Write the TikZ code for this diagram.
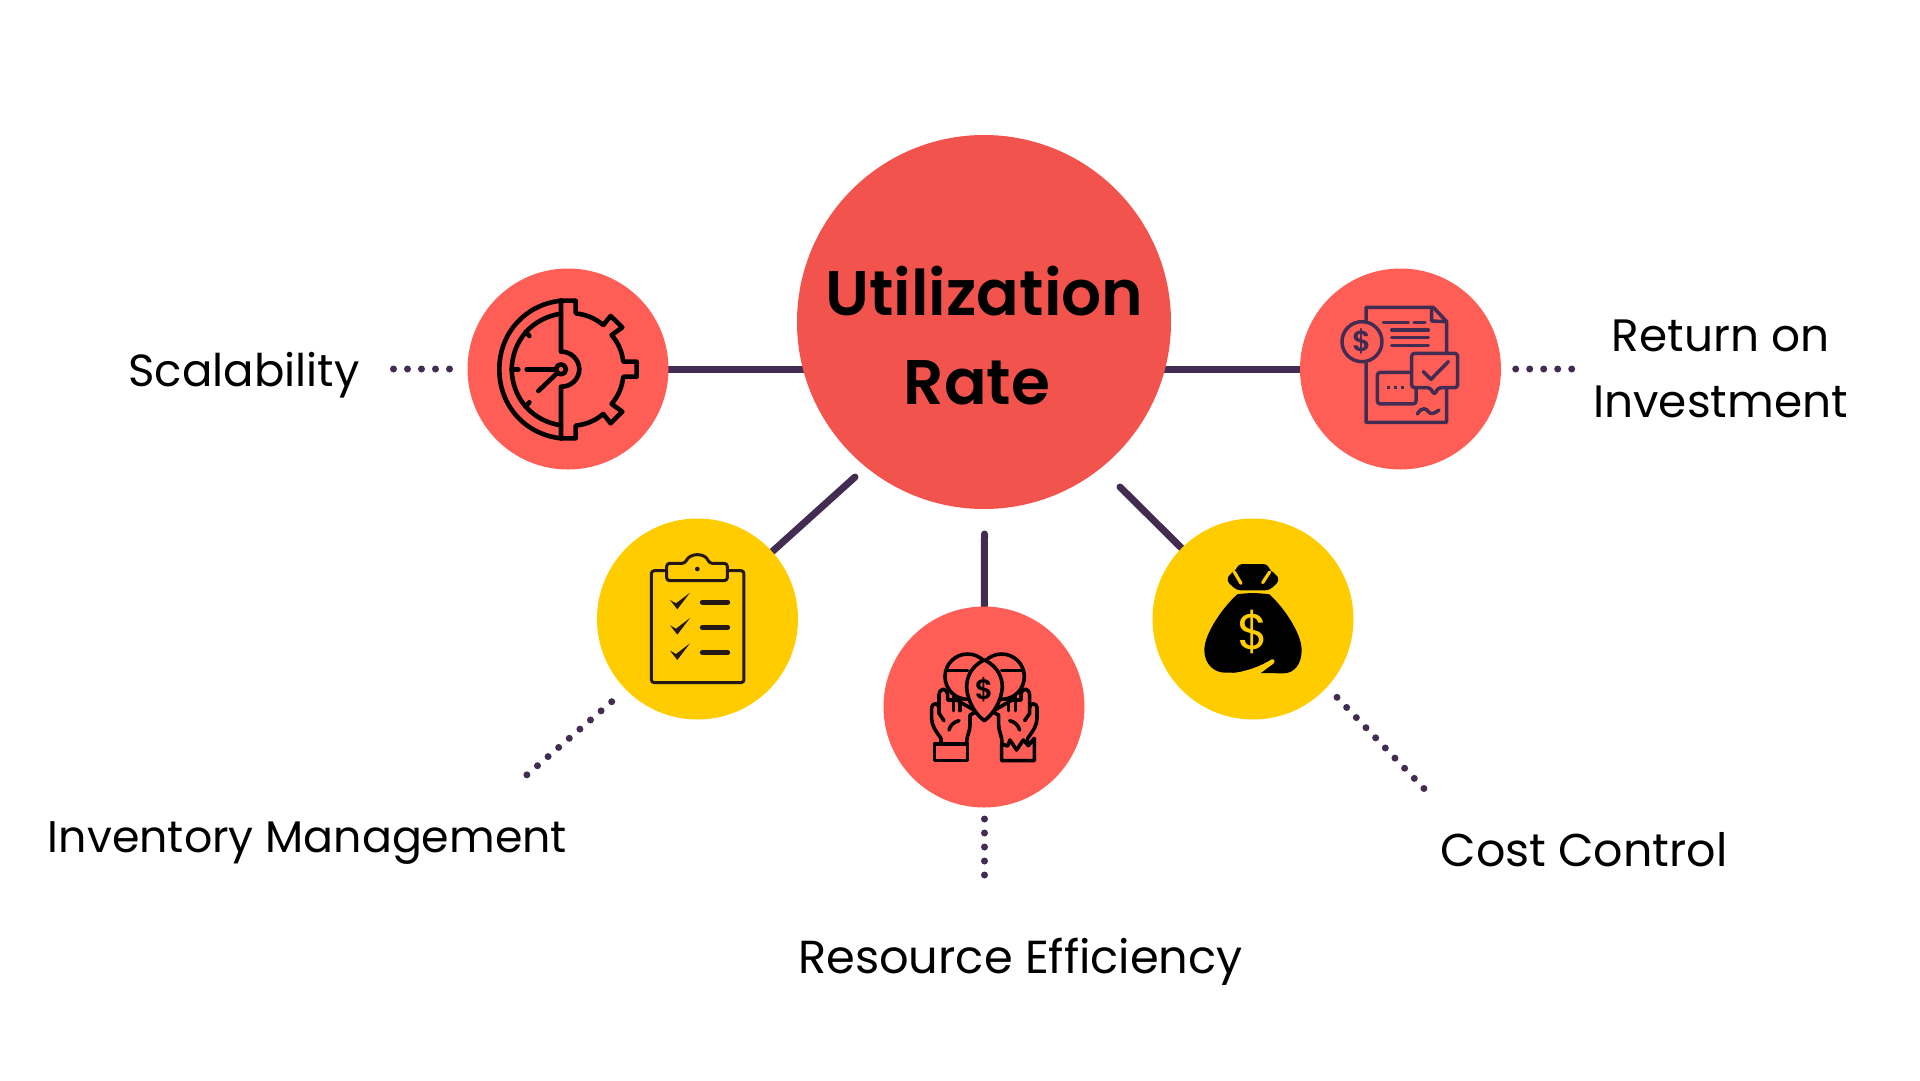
\documentclass[tikz,border=0pt]{standalone}
\usepackage{fontspec}
\usepackage{xcolor}
\usetikzlibrary{backgrounds}
\setmainfont{Poppins}
\newfontfamily\titlefont{Poppins SemiBold}
\definecolor{hubred}{HTML}{F2534D}
\definecolor{coral}{HTML}{FF5E57}
\definecolor{amber}{HTML}{FFCC00}
\definecolor{plum}{HTML}{432C52}
\definecolor{ink}{HTML}{231815}
\newcommand{\handshape}{
\draw[fill=coral] (198,430) -- (198,415) .. controls (180,390) and (170,375) .. (170,355) -- (170,322) .. controls (172,308) and (190,308) .. (192,322) -- (192,285) .. controls (194,262) and (216,262) .. (218,285) -- (218,300) -- (245,300) -- (305,335) -- (285,345) -- (285,375) .. controls (285,395) and (275,405) .. (275,430);
\draw (192,322) -- (192,340) -- (207,362);
\draw (235,290) -- (235,332);
\draw (255,295) -- (255,332);
\draw (222,390) .. controls (226,375) and (238,365) .. (252,362);
}
\begin{document}
\begin{tikzpicture}[x=1pt,y=-1pt,
blob/.style={circle,minimum size=201pt,inner sep=0pt},
spoke/.style={draw=plum,line width=7pt,line cap=round},
dots/.style={draw=plum,line width=7pt,line cap=round,dash pattern=on 0pt off 14pt},
lab/.style={font=\fontsize{#1}{66}\selectfont,align=center,inner sep=0pt},
lab/.default=45,
icon/.style={line width=4.6pt,line join=round,line cap=round}
]
\useasboundingbox (0,0) rectangle (1920,1080);

\node[circle,fill=hubred,minimum size=374pt,inner sep=0pt](main) at (984,322) {};
\node[blob,fill=coral](sc) at (568,369) {};
\node[blob,fill=coral](rt) at (1400.5,369) {};
\node[blob,fill=amber](iv) at (697.5,619) {};
\node[blob,fill=amber](cc) at (1253,619) {};
\node[blob,fill=coral](re) at (984,707) {};

\coordinate (ivin) at (855,477);
\coordinate (ccin) at (1120,487);
\coordinate (rein) at (984.5,534);
\begin{scope}[on background layer]
\draw[spoke] (sc) -- (sc -| main);
\draw[spoke] (rt) -- (rt -| main);
\draw[spoke] (iv) -- (ivin);
\draw[spoke] (cc) -- (ccin);
\draw[spoke] (re) -- (rein);
\end{scope}

\coordinate (sca) at (393.5,369);
\coordinate (scb) at (450.5,369);
\coordinate (rta) at (1515.7,369);
\coordinate (rtb) at (1572.7,369);
\coordinate (iva) at (611.7,701.7);
\coordinate (ivb) at (526,775.6);
\coordinate (cca) at (1337,697.3);
\coordinate (ccb) at (1424.7,789.3);
\coordinate (rea) at (984.5,819);
\coordinate (reb) at (984.5,876.5);
\draw[dots] (sca) -- (scb);
\draw[dots] (rta) -- (rtb);
\draw[dots] (iva) -- (ivb);
\draw[dots] (cca) -- (ccb);
\draw[dots] (rea) -- (reb);

\node[font=\fontsize{63}{89}\titlefont,align=center,inner sep=0pt](title) at (984.5,336) {Utilization\\Rate\hspace*{15pt}};

\node[lab,anchor=base](sclab) at (244,386) {Scalability};
\node[lab=45.4](rtlab) at (1720.5,368.5) {Return on\\Investment};
\node[lab=44.3,anchor=base](ivlab) at (307.5,852) {Inventory Management};
\node[lab=46,anchor=base](cclab) at (1584,866.5) {Cost Control};
\node[lab=46.3,anchor=base](relab) at (1020.5,973.5) {Resource Efficiency};

\begin{scope}[shift={(460,260)},x=0.3333pt,y=-0.3333pt,icon,draw=black]
\draw (303,122) -- (347,122) -- (347,160) to[bend left=15] (430,195) -- (452,168) -- (487,202) -- (455,225) to[bend left=15] (490,305) -- (530,305) -- (530,350) -- (490,350) to[bend left=15] (455,432) -- (487,455) -- (452,490) -- (430,462) to[bend left=15] (347,497) -- (347,535) -- (303,535);
\draw (303,122) to[bend right=42] (118,328) to[bend right=42] (303,535);
\draw (303,161) to[bend right=40] (155,328) to[bend right=40] (303,496);
\draw (303,122) -- (303,275) to[bend left=45] (358,328) to[bend left=45] (303,380) -- (303,535);
\draw (197,215) -- (208,228);
\draw (155,328) -- (175,328);
\draw (197,440) -- (208,427);
\draw (303,328) circle (15);
\draw (200,328) -- (288,328);
\draw (235,393) -- (293,338);
\end{scope}

\begin{scope}[shift={(1290,260)},x=0.3333pt,y=-0.3333pt,icon,line width=3.5pt,draw=plum]
\draw (228,142) -- (430,142) -- (470,185) -- (470,487) -- (228,487) -- cycle;
\draw (425,145) -- (425,183) -- (468,185);
\draw[fill=coral] (216,245) circle (60);
\node[text=plum,font=\fontsize{29}{29}\titlefont,inner sep=0pt](rtcoin) at (216,245) {\$};
\draw (280,187) -- (355,187);
\draw (372,187) -- (405,187);
\draw (305,210) -- (415,210);
\draw (305,233) -- (415,233);
\draw (305,256) -- (415,256);
\draw[rounded corners=3pt,fill=coral] (262,337) rectangle (378,432);
\draw[line cap=butt,dash pattern=on 3pt off 3.6pt] (292,383) -- (348,383);
\draw[rounded corners=3pt,fill=coral] (365,280) -- (503,280) -- (503,383) -- (445,383) -- (433,405) -- (421,383) -- (365,383) -- cycle;
\draw (400,335) -- (423,358) -- (475,305);
\draw (382,462) .. controls (395,440) and (410,445) .. (415,455) .. controls (422,465) and (435,460) .. (447,450);
\end{scope}

\begin{scope}[shift={(590,510)},x=0.3333pt,y=-0.3333pt,icon,line width=3pt,draw=ink]
\draw[rounded corners=3pt] (184,182) rectangle (462,518);
\draw[rounded corners=3pt,fill=amber] (230,160) -- (285,160) .. controls (300,128) and (345,128) .. (358,160) -- (412,160) -- (412,212) -- (230,212) -- cycle;
\fill[ink] (322,177) circle (7);
\foreach \yy in {0,76,152}{
\fill[ink,yshift=-\yy*0.3333pt] (240,270) -- (258,280) -- (300,248) -- (262,298) -- cycle;
\draw[line width=5pt,yshift=-\yy*0.3333pt] (337,276) -- (413,276);
}
\end{scope}

\begin{scope}[shift={(1140,510)},x=0.3333pt,y=-0.3333pt]
\fill[black,rounded corners=4pt] (295,162) -- (383,162) -- (392,186) -- (407,190) -- (419,212) -- (388,241) -- (290,241) -- (259,212) -- (270,190) -- (285,186) -- cycle;
\draw[amber,line width=3.2pt,line cap=round] (283,186) -- (303,220);
\draw[amber,line width=3.2pt,line cap=round] (389,186) -- (368,218);
\fill[black] (292,253) .. controls (250,290) and (193,370) .. (193,420) .. controls (193,465) and (225,488) .. (255,488) -- (430,490) .. controls (465,490) and (485,460) .. (485,420) .. controls (485,370) and (430,290) .. (388,253) .. controls (350,248) and (325,248) .. (292,253) -- cycle;
\fill[amber] (270,490) .. controls (320,485) and (360,470) .. (395,448) .. controls (402,445) and (407,455) .. (400,461) .. controls (385,472) and (372,482) .. (358,492) -- cycle;
\node[text=amber,font=\fontsize{50}{50}\selectfont,inner sep=0pt](cccoin) at (339,365) {\$};
\end{scope}

\begin{scope}[shift={(875,600)},x=0.3333pt,y=-0.3333pt,icon,line width=3.6pt,draw=black]
\draw (278,230) circle (68);
\draw (380,230) circle (68);
\draw (212,212) -- (278,212);
\draw (380,212) -- (446,212);
\begin{scope}
\handshape
\draw (178,432) rectangle (278,482);
\end{scope}
\begin{scope}[shift={(656,0)},xscale=-1]
\handshape
\end{scope}
\draw (380,432) -- (380,482) -- (478,482) -- (478,415) -- (460,437) -- (445,420) -- (425,450) -- (405,420) -- (398,438) -- cycle;
\draw[fill=coral] (328,180) .. controls (285,200) and (275,235) .. (275,262) .. controls (278,310) and (305,345) .. (328,362) .. controls (351,345) and (378,310) .. (382,262) .. controls (382,235) and (371,200) .. (328,180) -- cycle;
\node[text=black,font=\fontsize{28}{28}\titlefont,inner sep=0pt](recoin) at (327,268) {\$};
\end{scope}
\end{tikzpicture}
\end{document}
